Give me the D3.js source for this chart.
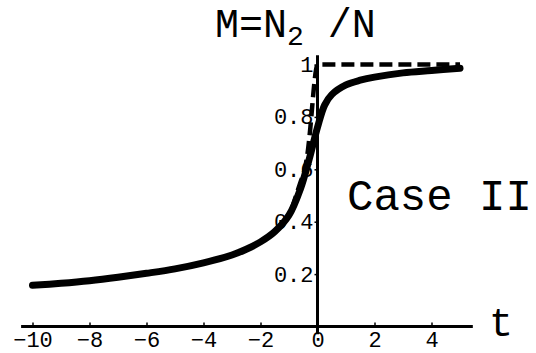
<!DOCTYPE html>
<html>
<head>
<meta charset="utf-8">
<script src="https://cdn.jsdelivr.net/npm/d3@7"></script>
<style>
    body { margin: 0; background: #fff; }
    svg { display: block; }
    text { font-family: "Liberation Mono", "DejaVu Sans Mono", monospace; fill: #000; }
</style>
</head>
<body>
<svg></svg>
<script>
// solid curve M(t)
let solidT = [-10, -9, -8, -7, -6, -5, -4, -3, -2.5, -2, -1.5, -1, -0.6, -0.3, 0, 0.25, 0.5, 1, 1.5, 2, 3, 4, 5];
let solidM = [0.157, 0.165, 0.175, 0.188, 0.203, 0.22, 0.243, 0.273, 0.295, 0.323, 0.362, 0.425, 0.525, 0.635, 0.76, 0.845, 0.885, 0.922, 0.94, 0.952, 0.968, 0.977, 0.986];

// dashed limiting curve
let dashT = [-0.9, -0.6, -0.45, -0.35, -0.25, -0.17, -0.1, -0.05, 0, 5];
let dashM = [0.45, 0.55, 0.6, 0.66, 0.76, 0.86, 0.94, 0.98, 1, 1];

let xTicks = [-10, -8, -6, -4, -2, 0, 2, 4];
let yTicks = [0.2, 0.4, 0.6, 0.8, 1];

let width = 536,
    height = 353;

let svg = d3.select('svg')
    .attr('width', width)
    .attr('height', height);

let scaleX = d3.scaleLinear()
    .domain([-10, 5])
    .range([32.5, 460]);

let scaleY = d3.scaleLinear()
    .domain([0, 1])
    .range([326.5, 64.5]);

// x axis
let xAxis = d3.axisBottom(scaleX)
    .tickValues(xTicks)
    .tickFormat(d => d)
    .tickSizeInner(-4)
    .tickSizeOuter(0)
    .tickPadding(5);

let xAxisG = svg.append('g')
    .attr('transform', `translate(0, ${scaleY(0)})`)
    .call(xAxis);
xAxisG.select('.domain').remove();
xAxisG.selectAll('line').attr('stroke', '#000').attr('stroke-width', 1.5);
xAxisG.selectAll('text')
    .attr('font-size', 22)
    .attr('font-family', '"Liberation Mono", monospace')
    .text(d => d < 0 ? '\u2212' + Math.abs(d) : d);

// y axis
let yAxis = d3.axisLeft(scaleY)
    .tickValues(yTicks)
    .tickFormat(d => d === 1 ? '1' : d3.format('.1f')(d))
    .tickSizeInner(3)
    .tickSizeOuter(0)
    .tickPadding(1);

let yAxisG = svg.append('g')
    .attr('transform', `translate(${scaleX(0)}, 0)`)
    .call(yAxis);
yAxisG.select('.domain').remove();
yAxisG.selectAll('line').attr('stroke', '#000').attr('stroke-width', 1.5);
yAxisG.selectAll('text')
    .attr('font-size', 22)
    .attr('font-family', '"Liberation Mono", monospace');

// axis lines
svg.append('line')
    .attr('x1', scaleX(-10.4)).attr('x2', scaleX(5.45))
    .attr('y1', scaleY(0)).attr('y2', scaleY(0))
    .attr('stroke', '#000').attr('stroke-width', 3);

svg.append('line')
    .attr('x1', scaleX(0)).attr('x2', scaleX(0))
    .attr('y1', scaleY(1.035)).attr('y2', scaleY(-0.03))
    .attr('stroke', '#000').attr('stroke-width', 3);

let line = d3.line()
    .x(d => scaleX(d[0]))
    .y(d => scaleY(d[1]));

svg.append('path')
    .datum(dashT.map((t, i) => [t, dashM[i]]))
    .attr('d', line.curve(d3.curveMonotoneX))
    .attr('fill', 'none')
    .attr('stroke', '#000')
    .attr('stroke-width', 4.5)
    .attr('stroke-dasharray', '13,6');

svg.append('path')
    .datum(solidT.map((t, i) => [t, solidM[i]]))
    .attr('d', line.curve(d3.curveCatmullRom.alpha(0.5)))
    .attr('fill', 'none')
    .attr('stroke', '#000')
    .attr('stroke-width', 7)
    .attr('stroke-linecap', 'round')
    .attr('stroke-linejoin', 'round');

// labels
let title = svg.append('text')
    .attr('x', 215)
    .attr('y', 37)
    .attr('font-size', 40);
title.append('tspan').text('M=N');
title.append('tspan').attr('font-size', 28).attr('dy', 8).text('2');
title.append('tspan').attr('dy', -8).text(' /N');

svg.append('text')
    .attr('x', 489)
    .attr('y', 336)
    .attr('font-size', 40)
    .text('t');

svg.append('text')
    .attr('x', 347)
    .attr('y', 210)
    .attr('font-size', 44)
    .text('Case II');
</script>
</body>
</html>
